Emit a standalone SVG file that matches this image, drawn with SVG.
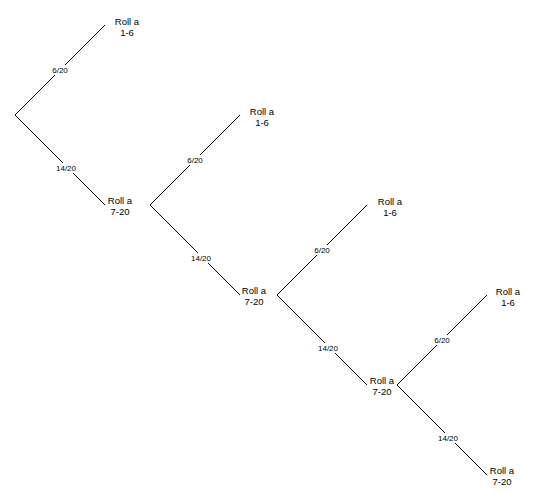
<svg xmlns="http://www.w3.org/2000/svg" width="540" height="500" viewBox="0 0 540 500">
<style>
.e{stroke:#000;stroke-width:1;fill:none}
.n{font-family:"Liberation Sans",Arial,sans-serif;font-size:9.5px;fill:#000;text-anchor:middle}
.lb{font-family:"Liberation Sans",Arial,sans-serif;font-size:8px;fill:#000;text-anchor:middle}
.bg{fill:#fff}
</style>
<rect width="540" height="500" fill="#fff"/>
<g id="connectors">
<polyline class="e" points="105,25 15,115 105,205"/>
<polyline class="e" points="240,115 150,205 240,295"/>
<polyline class="e" points="367,205 277,295 367,385"/>
<polyline class="e" points="487,295 397,385 487,475"/>
<g id="labels">
<rect class="bg" x="51" y="65" width="18" height="10"/><text class="lb" x="60" y="73">6/20</text>
<rect class="bg" x="55" y="163" width="22" height="10"/><text class="lb" x="66" y="171">14/20</text>
<rect class="bg" x="186" y="155" width="18" height="10"/><text class="lb" x="195" y="163">6/20</text>
<rect class="bg" x="190" y="253" width="22" height="10"/><text class="lb" x="201" y="261">14/20</text>
<rect class="bg" x="313" y="245" width="18" height="10"/><text class="lb" x="322" y="253">6/20</text>
<rect class="bg" x="317" y="343" width="22" height="10"/><text class="lb" x="328" y="351">14/20</text>
<rect class="bg" x="433" y="335" width="18" height="10"/><text class="lb" x="442" y="343">6/20</text>
<rect class="bg" x="437" y="433" width="22" height="10"/><text class="lb" x="448" y="441">14/20</text>
</g>
</g>
<g id="n1a"><text class="n" x="127" y="25">Roll a</text><text class="n" x="127" y="36">1-6</text></g>
<g id="n1b"><text class="n" x="120" y="204">Roll a</text><text class="n" x="120" y="215">7-20</text></g>
<g id="n2a"><text class="n" x="262" y="115">Roll a</text><text class="n" x="262" y="126">1-6</text></g>
<g id="n2b"><text class="n" x="254" y="294">Roll a</text><text class="n" x="254" y="305">7-20</text></g>
<g id="n3a"><text class="n" x="390" y="205">Roll a</text><text class="n" x="390" y="216">1-6</text></g>
<g id="n3b"><text class="n" x="382" y="384">Roll a</text><text class="n" x="382" y="395">7-20</text></g>
<g id="n4a"><text class="n" x="508" y="295">Roll a</text><text class="n" x="508" y="306">1-6</text></g>
<g id="n4b"><text class="n" x="502" y="474">Roll a</text><text class="n" x="502" y="485">7-20</text></g>
</svg>
